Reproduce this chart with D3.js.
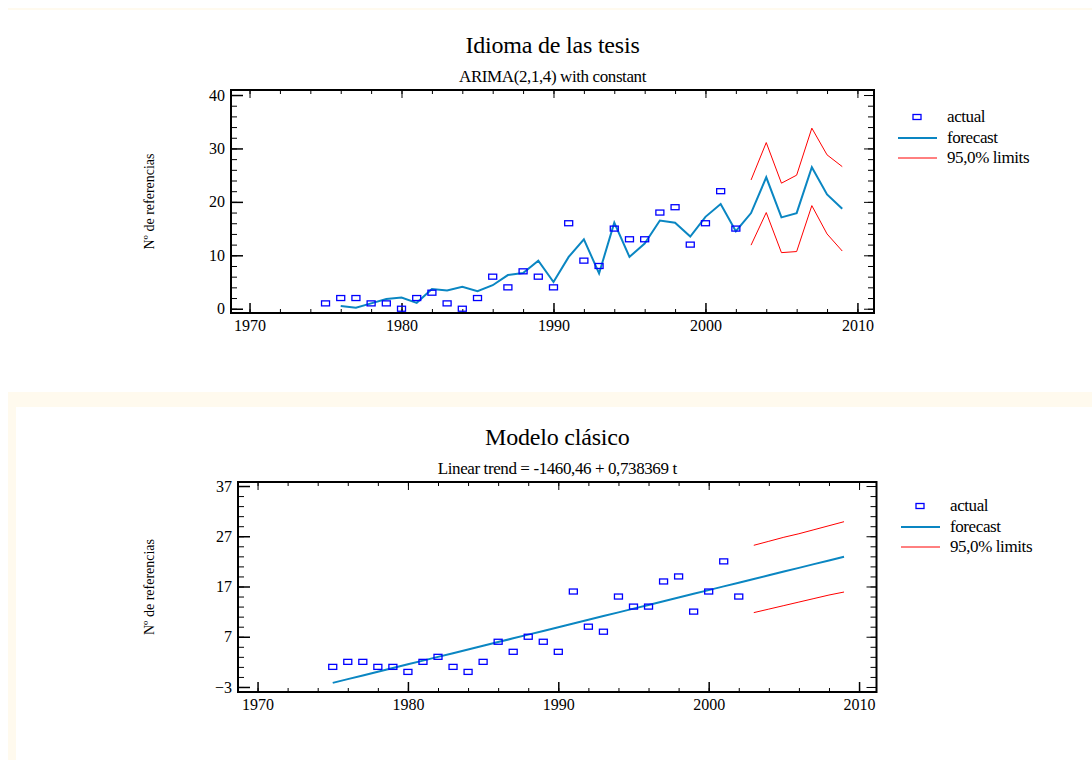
<!DOCTYPE html>
<html>
<head>
<meta charset="utf-8">
<script src="https://cdn.jsdelivr.net/npm/d3@7"></script>
<style>
  body { margin: 0; background: #fff; }
  svg { display: block; font-family: "Liberation Serif", "Times New Roman", serif; }
  .axis path { display: none; }
  .axis line { stroke: #000; }
  .axis text { font-size: 16px; fill: #000; font-family: "Liberation Serif", serif; }
</style>
</head>
<body>
<div id="chart"></div>
<script>
// actual observations (same for both panels)
const actualYears = d3.range(1975, 2003);
const actualValues = [1, 2, 2, 1, 1, 0, 2, 3, 1, 0, 2, 6, 4, 7, 6, 4, 16, 9, 8, 15, 13, 13, 18, 19, 12, 16, 22, 15];

// ARIMA(2,1,4) forecast, 1976-2009
const arimaYears = d3.range(1976, 2010);
const arimaForecast = [0.5, 0.2, 1.0, 1.8, 2.1, 1.1, 3.7, 3.4, 4.1, 3.3, 4.4, 6.3, 6.7, 9.0, 5.0,
  9.7, 13.0, 6.6, 16.1, 9.7, 12.2, 16.5, 16.1, 13.5, 17.2, 19.6, 14.5,
  17.9, 24.6, 17.1, 17.9, 26.5, 21.4, 18.7];
const limitYears = d3.range(2003, 2010);
const arimaUpper = [24.1, 31.1, 23.5, 25.0, 33.8, 28.8, 26.6];
const arimaLower = [11.9, 18.0, 10.5, 10.7, 19.3, 14.0, 10.8];

// linear trend forecast, 1975-2009
const trendYears = d3.range(1975, 2010);
const trendForecast = [-2.18, -1.44, -0.70, 0.04, 0.77, 1.51, 2.25, 2.99, 3.73, 4.47, 5.20, 5.94,
  6.68, 7.42, 8.16, 8.90, 9.63, 10.37, 11.11, 11.85, 12.59, 13.33, 14.06, 14.80, 15.54, 16.28,
  17.02, 17.76, 18.49, 19.23, 19.97, 20.71, 21.45, 22.19, 22.92];
const trendUpper = [25.2, 26.0, 26.8, 27.5, 28.3, 29.1, 29.9];
const trendLower = [11.8, 12.5, 13.2, 13.9, 14.6, 15.3, 15.9];

const xTicks = [1970, 1980, 1990, 2000, 2010];
const arimaYTicks = [0, 10, 20, 30, 40];
const trendYTicks = [-3, 7, 17, 27, 37];

const W = 1092, H = 760;
const svg = d3.select("#chart").append("svg").attr("width", W).attr("height", H);

// cream frame pieces
svg.append("rect").attr("x", 8).attr("y", 8).attr("width", W - 8).attr("height", 2).attr("fill", "#fffaee");
svg.append("rect").attr("x", 8).attr("y", 392).attr("width", W - 8).attr("height", 15).attr("fill", "#fffaee");
svg.append("rect").attr("x", 8).attr("y", 392).attr("width", 8).attr("height", H - 392).attr("fill", "#fffaee");

function panel(p) {
  const x = d3.scaleLinear().domain(p.xDomain).range([p.left, p.right]);
  const y = d3.scaleLinear().domain(p.yDomain).range([p.bottom, p.top]);
  const g = svg.append("g");
  const minorX = d3.range(1970, 2011, 2);
  const minorY = d3.range(p.yTicks[0], p.yTicks[p.yTicks.length - 1] + 0.1, 2);

  // bottom axis
  g.append("g").attr("class", "axis").attr("transform", `translate(0,${p.bottom})`)
    .call(d3.axisBottom(x).tickValues(minorX).tickSize(-4).tickFormat(""));
  g.append("g").attr("class", "axis").attr("transform", `translate(0,${p.bottom})`)
    .call(d3.axisBottom(x).tickValues(xTicks).tickSize(-10).tickPadding(7).tickFormat(d3.format("d")))
    .selectAll("line").attr("stroke-width", 1.5);
  // top axis
  g.append("g").attr("class", "axis").attr("transform", `translate(0,${p.top})`)
    .call(d3.axisTop(x).tickValues(minorX).tickSize(-4).tickFormat(""));
  g.append("g").attr("class", "axis").attr("transform", `translate(0,${p.top})`)
    .call(d3.axisTop(x).tickValues(xTicks).tickSize(-8).tickFormat(""));
  // left axis
  g.append("g").attr("class", "axis").attr("transform", `translate(${p.left},0)`)
    .call(d3.axisLeft(y).tickValues(minorY).tickSize(-6).tickFormat(""));
  g.append("g").attr("class", "axis").attr("transform", `translate(${p.left},0)`)
    .call(d3.axisLeft(y).tickValues(p.yTicks).tickSize(-12).tickPadding(6).tickFormat(d3.format("d")))
    .selectAll("line").attr("stroke-width", 1.5);
  // right axis
  g.append("g").attr("class", "axis").attr("transform", `translate(${p.right},0)`)
    .call(d3.axisRight(y).tickValues(minorY).tickSize(-6).tickFormat(""));
  g.append("g").attr("class", "axis").attr("transform", `translate(${p.right},0)`)
    .call(d3.axisRight(y).tickValues(p.yTicks).tickSize(-10).tickFormat(""));

  // frame
  g.append("rect")
    .attr("x", p.left).attr("y", p.top)
    .attr("width", p.right - p.left).attr("height", p.bottom - p.top)
    .attr("fill", "none").attr("stroke", "#000").attr("stroke-width", 2);

  // titles
  const cx = (p.left + p.right) / 2;
  g.append("text").attr("x", cx).attr("y", p.top - 37).attr("text-anchor", "middle")
    .attr("font-size", 24).attr("letter-spacing", -0.2).text(p.title);
  g.append("text").attr("x", cx).attr("y", p.top - 8).attr("text-anchor", "middle")
    .attr("font-size", 17).attr("letter-spacing", -0.4).text(p.subtitle);
  g.append("text")
    .attr("transform", `translate(${p.labelX},${(p.top + p.bottom) / 2}) rotate(-90)`)
    .attr("text-anchor", "middle").attr("font-size", 14).text("Nº de referencias");

  const line = d3.line().x((d) => x(d[0])).y((d) => y(d[1]));

  // limits
  g.append("path").datum(d3.zip(limitYears, p.upper)).attr("d", line)
    .attr("fill", "none").attr("stroke", "#ff0000").attr("stroke-width", 1);
  g.append("path").datum(d3.zip(limitYears, p.lower)).attr("d", line)
    .attr("fill", "none").attr("stroke", "#ff0000").attr("stroke-width", 1);

  // forecast
  g.append("path").datum(d3.zip(p.fYears, p.forecast)).attr("d", line)
    .attr("fill", "none").attr("stroke", "#0a86c2").attr("stroke-width", 2);

  // actual
  g.selectAll(".pt").data(d3.zip(actualYears, actualValues)).join("rect")
    .attr("class", "pt")
    .attr("x", (d) => x(d[0]) - 4).attr("y", (d) => y(d[1]) - 2.5)
    .attr("width", 8).attr("height", 5)
    .attr("fill", "none").attr("stroke", "#0000ff").attr("stroke-width", 1.3);

  // legend
  const lg = g.append("g").attr("transform", `translate(${p.legendX},${p.legendY})`);
  lg.append("rect").attr("x", 15).attr("y", -2.5).attr("width", 8).attr("height", 5)
    .attr("fill", "none").attr("stroke", "#0000ff").attr("stroke-width", 1.3);
  lg.append("line").attr("x1", 0).attr("x2", 39).attr("y1", 21).attr("y2", 21)
    .attr("stroke", "#0a86c2").attr("stroke-width", 2);
  lg.append("line").attr("x1", 0).attr("x2", 39).attr("y1", 41).attr("y2", 41)
    .attr("stroke", "#ff0000").attr("stroke-width", 1);
  ["actual", "forecast", "95,0% limits"].forEach((t, i) => {
    lg.append("text").attr("x", 49).attr("y", i * 20.5 + 5).attr("font-size", 17)
      .attr("letter-spacing", -0.4).text(t);
  });
}

panel({
  left: 231, right: 874, top: 90, bottom: 313,
  xDomain: [1968.78, 2011.09], yDomain: [-0.8, 40.94],
  yTicks: arimaYTicks, labelX: 154,
  title: "Idioma de las tesis", subtitle: "ARIMA(2,1,4) with constant",
  fYears: arimaYears, forecast: arimaForecast, upper: arimaUpper, lower: arimaLower,
  legendX: 898, legendY: 117
});

panel({
  left: 238, right: 876.5, top: 482, bottom: 692,
  xDomain: [1968.7, 2011.16], yDomain: [-4.0, 37.8],
  yTicks: trendYTicks, labelX: 154,
  title: "Modelo clásico", subtitle: "Linear trend = -1460,46 + 0,738369 t",
  fYears: trendYears, forecast: trendForecast, upper: trendUpper, lower: trendLower,
  legendX: 901, legendY: 506
});
</script>
</body>
</html>
